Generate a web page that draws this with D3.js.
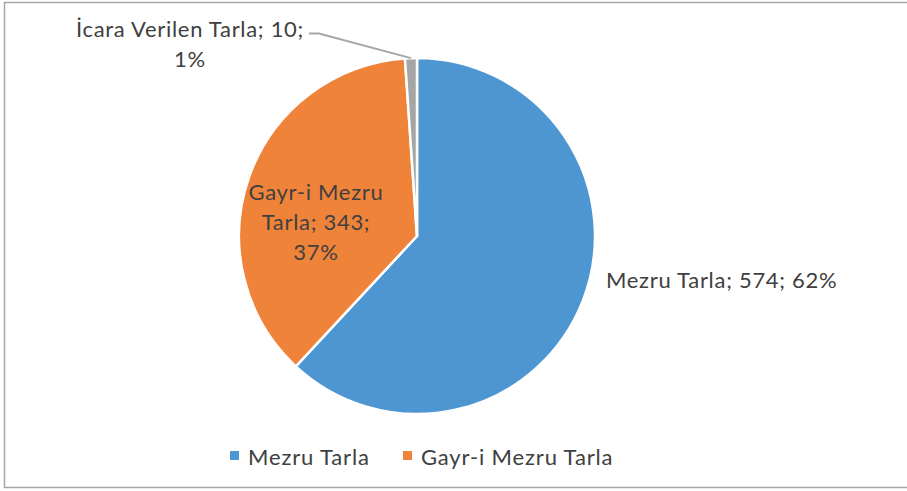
<!DOCTYPE html>
<html>
<head>
<meta charset="utf-8">
<script src="https://cdn.jsdelivr.net/npm/d3@7"></script>
<style>
  html, body { margin: 0; padding: 0; background: #fff; }
  text { font-family: Lato, "Open Sans", sans-serif; fill: #404040; }
</style>
</head>
<body>
<div id="chart"></div>
<script>
// data
const categories = ["Mezru Tarla", "Gayr-i Mezru Tarla", "İcara Verilen Tarla"];
const values = [574, 343, 10];
const percents = ["62%", "37%", "1%"];
const colors = ["#4E96D2", "#F0833A", "#A5A5A5"];
const legendItems = ["Mezru Tarla", "Gayr-i Mezru Tarla"];

const width = 907, height = 491;
const cx = 417, cy = 236, radius = 178;

const svg = d3.select("#chart")
  .append("svg")
  .attr("width", width)
  .attr("height", height);

// chart frame
svg.append("rect")
  .attr("x", 4.5).attr("y", 2.5)
  .attr("width", width + 10).attr("height", 485)
  .attr("fill", "none")
  .attr("stroke", "#A6A6A6")
  .attr("stroke-width", 1.5);

let data = categories.map(function(c, i) {
  return {name: c, value: values[i], pct: percents[i], color: colors[i]};
});

let pie = d3.pie()
  .value(function(d) { return d.value; })
  .sort(null);

let arc = d3.arc().innerRadius(0).outerRadius(radius);

let g = svg.append("g").attr("transform", "translate(" + cx + "," + cy + ")");
let arcs = pie(data);

g.selectAll("path")
  .data(arcs)
  .enter()
  .append("path")
  .attr("d", arc)
  .attr("fill", function(d) { return d.data.color; })
  .attr("stroke", "#fff")
  .attr("stroke-width", 2.5)
  .attr("stroke-linejoin", "round");

const fs = 22;
const ls = 0.7;

// label for the big slice, outside on the right
svg.append("text")
  .attr("x", 606)
  .attr("y", 288)
  .attr("font-size", fs)
  .attr("letter-spacing", ls)
  .text(data[0].name + "; " + data[0].value + "; " + data[0].pct);

// label inside the orange slice
let lab2 = svg.append("text")
  .attr("text-anchor", "middle")
  .attr("font-size", fs)
  .attr("letter-spacing", ls);
["Gayr-i Mezru", "Tarla;  " + data[1].value + ";", data[1].pct].forEach(function(t, i) {
  lab2.append("tspan").attr("x", 316).attr("y", 200 + i * 30).text(t);
});

// label for the small slice with leader line
let lab3 = svg.append("text")
  .attr("text-anchor", "middle")
  .attr("font-size", fs)
  .attr("letter-spacing", ls);
[data[2].name + ";  " + data[2].value + ";", data[2].pct].forEach(function(t, i) {
  lab3.append("tspan").attr("x", 190).attr("y", 37 + i * 30).text(t);
});

let mid = (arcs[2].startAngle + arcs[2].endAngle) / 2;
let edge = [cx + Math.sin(mid) * radius, cy - Math.cos(mid) * radius];
svg.append("polyline")
  .attr("points", [[309, 33.5], [319, 33.5], edge].map(function(p) { return p.join(","); }).join(" "))
  .attr("fill", "none")
  .attr("stroke", "#A6A6A6")
  .attr("stroke-width", 2);

// legend
let legend = svg.append("g");
let lx = [230, 403];
legendItems.forEach(function(name, i) {
  legend.append("rect")
    .attr("x", lx[i]).attr("y", 451)
    .attr("width", 9).attr("height", 9)
    .attr("fill", colors[i]);
  legend.append("text")
    .attr("x", lx[i] + 18).attr("y", 465)
    .attr("font-size", fs)
    .attr("letter-spacing", 0.85)
    .text(name);
});
</script>
</body>
</html>
